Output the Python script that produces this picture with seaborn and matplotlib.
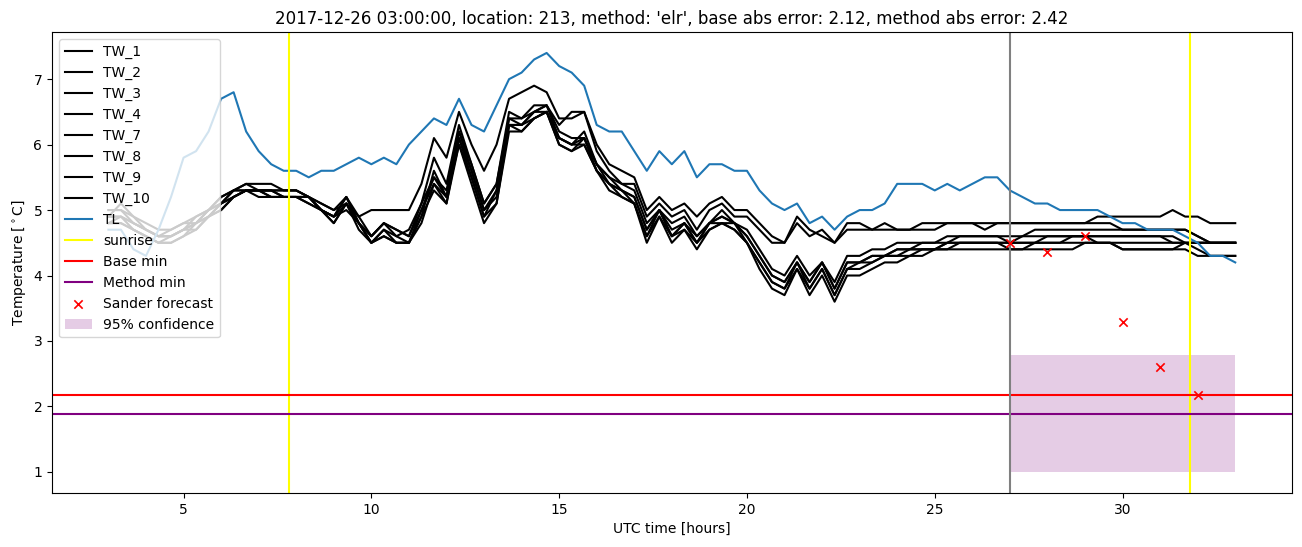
import numpy as np
import pandas as pd
import matplotlib
matplotlib.use("Agg")
import matplotlib.pyplot as plt
import seaborn as sns

# ---- data (20-minute steps from 03:00 to 33:00 UTC hours) ----
TL = [4.7, 4.7, 4.4, 4.3, 4.7, 5.2, 5.8, 5.9, 6.2, 6.7, 6.8, 6.2,
      5.9, 5.7, 5.6, 5.6, 5.5, 5.6, 5.6, 5.7, 5.8, 5.7, 5.8, 5.7,
      6.0, 6.2, 6.4, 6.3, 6.7, 6.3, 6.2, 6.6, 7.0, 7.1, 7.3, 7.4,
      7.2, 7.1, 6.9, 6.3, 6.2, 6.2, 5.9, 5.6, 5.9, 5.7, 5.9, 5.5,
      5.7, 5.7, 5.6, 5.6, 5.3, 5.1, 5.0, 5.1, 4.8, 4.9, 4.7, 4.9,
      5.0, 5.0, 5.1, 5.4, 5.4, 5.4, 5.3, 5.4, 5.3, 5.4, 5.5, 5.5,
      5.3, 5.2, 5.1, 5.1, 5.0, 5.0, 5.0, 5.0, 4.9, 4.8, 4.8, 4.7,
      4.7, 4.7, 4.6, 4.5, 4.3, 4.3, 4.2]

TW_1 = [5.0, 5.0, 4.9, 4.8, 4.7, 4.7, 4.8, 4.9, 5.0, 5.2, 5.3, 5.4,
        5.4, 5.4, 5.3, 5.3, 5.2, 5.1, 5.0, 5.2, 4.9, 5.0, 5.0, 5.0,
        5.0, 5.4, 6.1, 5.8, 6.5, 6.0, 5.6, 6.0, 6.7, 6.8, 6.9, 6.8,
        6.4, 6.4, 6.5, 6.0, 5.7, 5.6, 5.5, 5.0, 5.2, 5.0, 5.1, 4.9,
        5.1, 5.2, 5.0, 5.0, 4.8, 4.6, 4.5, 4.9, 4.7, 4.6, 4.5, 4.8,
        4.8, 4.7, 4.8, 4.7, 4.7, 4.8, 4.8, 4.8, 4.8, 4.8, 4.7, 4.8,
        4.8, 4.8, 4.8, 4.8, 4.8, 4.8, 4.8, 4.9, 4.9, 4.9, 4.9, 4.9,
        4.9, 5.0, 4.9, 4.9, 4.8, 4.8, 4.8]
TW_2 = [4.9, 4.9, 4.8, 4.7, 4.6, 4.6, 4.7, 4.8, 5.0, 5.1, 5.3, 5.3,
        5.3, 5.3, 5.3, 5.3, 5.2, 5.0, 4.9, 5.2, 4.8, 4.6, 4.8, 4.6,
        4.7, 5.1, 5.8, 5.4, 6.3, 5.7, 5.1, 5.4, 6.5, 6.4, 6.6, 6.6,
        6.3, 6.5, 6.5, 5.9, 5.6, 5.4, 5.4, 4.9, 5.1, 4.9, 5.0, 4.7,
        5.0, 5.1, 4.9, 4.9, 4.7, 4.5, 4.5, 4.8, 4.6, 4.7, 4.5, 4.7,
        4.7, 4.7, 4.7, 4.7, 4.7, 4.7, 4.7, 4.8, 4.8, 4.8, 4.8, 4.8,
        4.8, 4.8, 4.8, 4.8, 4.8, 4.8, 4.8, 4.8, 4.8, 4.7, 4.7, 4.7,
        4.7, 4.7, 4.7, 4.6, 4.5, 4.5, 4.5]
TW_3 = [4.8, 4.8, 4.7, 4.6, 4.5, 4.6, 4.7, 4.8, 4.9, 5.1, 5.2, 5.3,
        5.3, 5.3, 5.2, 5.2, 5.2, 5.0, 4.9, 5.1, 4.8, 4.5, 4.7, 4.6,
        4.5, 4.9, 5.6, 5.2, 6.2, 5.6, 5.0, 5.2, 6.3, 6.3, 6.4, 6.5,
        6.1, 6.0, 6.2, 5.7, 5.5, 5.3, 5.2, 4.7, 5.0, 4.7, 4.8, 4.6,
        4.8, 4.9, 4.8, 4.6, 4.3, 4.0, 3.9, 4.2, 3.9, 4.2, 3.8, 4.2,
        4.2, 4.3, 4.3, 4.4, 4.4, 4.5, 4.5, 4.5, 4.6, 4.6, 4.6, 4.6,
        4.5, 4.6, 4.7, 4.7, 4.7, 4.7, 4.7, 4.7, 4.7, 4.7, 4.7, 4.7,
        4.7, 4.7, 4.7, 4.6, 4.5, 4.5, 4.5]
TW_4 = [4.9, 5.1, 4.9, 4.7, 4.6, 4.7, 4.8, 4.8, 5.0, 5.2, 5.3, 5.3,
        5.3, 5.2, 5.2, 5.2, 5.1, 5.0, 4.9, 5.2, 4.8, 4.6, 4.8, 4.7,
        4.6, 5.0, 5.4, 5.2, 6.0, 5.5, 4.9, 5.1, 6.2, 6.2, 6.4, 6.5,
        6.0, 5.9, 6.0, 5.6, 5.3, 5.2, 5.1, 4.6, 4.9, 4.6, 4.8, 4.5,
        4.8, 4.8, 4.8, 4.5, 4.2, 3.9, 3.8, 4.2, 3.8, 4.1, 3.7, 4.1,
        4.1, 4.2, 4.3, 4.3, 4.4, 4.4, 4.4, 4.5, 4.5, 4.5, 4.5, 4.5,
        4.5, 4.5, 4.5, 4.6, 4.6, 4.6, 4.6, 4.5, 4.5, 4.5, 4.5, 4.5,
        4.5, 4.5, 4.5, 4.5, 4.5, 4.5, 4.5]
TW_7 = [4.8, 4.8, 4.7, 4.6, 4.5, 4.5, 4.6, 4.7, 4.9, 5.0, 5.2, 5.3,
        5.3, 5.3, 5.2, 5.2, 5.2, 5.0, 4.8, 5.1, 4.7, 4.5, 4.6, 4.5,
        4.5, 4.9, 5.3, 5.1, 6.0, 5.4, 4.8, 5.1, 6.3, 6.3, 6.5, 6.5,
        6.1, 6.0, 6.0, 5.6, 5.4, 5.2, 5.1, 4.5, 4.9, 4.5, 4.7, 4.4,
        4.7, 4.8, 4.7, 4.5, 4.1, 3.8, 3.7, 4.1, 3.7, 4.0, 3.6, 4.0,
        4.0, 4.1, 4.2, 4.2, 4.3, 4.3, 4.4, 4.4, 4.5, 4.5, 4.5, 4.5,
        4.4, 4.4, 4.5, 4.5, 4.5, 4.5, 4.5, 4.5, 4.5, 4.4, 4.4, 4.4,
        4.4, 4.4, 4.5, 4.4, 4.3, 4.3, 4.3]
TW_8 = [5.0, 5.0, 4.8, 4.7, 4.6, 4.6, 4.7, 4.9, 5.0, 5.1, 5.3, 5.4,
        5.3, 5.3, 5.3, 5.3, 5.2, 5.1, 5.0, 5.1, 4.9, 4.6, 4.8, 4.7,
        4.6, 5.1, 5.5, 5.3, 6.2, 5.7, 5.1, 5.4, 6.4, 6.4, 6.5, 6.6,
        6.2, 6.1, 6.1, 5.7, 5.5, 5.4, 5.3, 4.8, 5.0, 4.8, 4.9, 4.6,
        4.8, 5.0, 4.8, 4.7, 4.4, 4.1, 4.0, 4.3, 4.0, 4.2, 3.9, 4.3,
        4.3, 4.4, 4.4, 4.5, 4.5, 4.5, 4.5, 4.6, 4.6, 4.6, 4.6, 4.6,
        4.6, 4.6, 4.6, 4.6, 4.6, 4.6, 4.6, 4.6, 4.6, 4.6, 4.6, 4.6,
        4.6, 4.5, 4.5, 4.5, 4.5, 4.5, 4.5]
TW_9 = [4.8, 4.9, 4.7, 4.6, 4.5, 4.5, 4.6, 4.8, 4.9, 5.0, 5.2, 5.3,
        5.2, 5.2, 5.2, 5.2, 5.1, 5.0, 4.9, 5.0, 4.8, 4.5, 4.6, 4.5,
        4.5, 4.8, 5.4, 5.1, 6.1, 5.5, 4.9, 5.3, 6.3, 6.2, 6.4, 6.5,
        6.0, 5.9, 6.1, 5.6, 5.4, 5.3, 5.1, 4.6, 5.0, 4.6, 4.7, 4.5,
        4.7, 4.8, 4.7, 4.5, 4.2, 3.9, 3.8, 4.1, 3.8, 4.1, 3.7, 4.1,
        4.2, 4.3, 4.3, 4.4, 4.4, 4.4, 4.4, 4.5, 4.5, 4.5, 4.5, 4.5,
        4.5, 4.5, 4.5, 4.5, 4.5, 4.6, 4.6, 4.6, 4.6, 4.6, 4.6, 4.6,
        4.6, 4.6, 4.5, 4.5, 4.5, 4.5, 4.5]
TW_10 = [4.9, 4.9, 4.8, 4.7, 4.6, 4.6, 4.7, 4.7, 4.9, 5.1, 5.2, 5.3,
         5.3, 5.2, 5.2, 5.2, 5.2, 5.0, 4.8, 5.1, 4.8, 4.5, 4.7, 4.5,
         4.5, 5.0, 5.5, 5.2, 6.1, 5.6, 5.0, 5.3, 6.4, 6.3, 6.5, 6.6,
         6.1, 6.0, 6.1, 5.7, 5.4, 5.3, 5.2, 4.7, 5.0, 4.6, 4.8, 4.5,
         4.8, 4.9, 4.8, 4.6, 4.3, 4.0, 3.9, 4.2, 3.9, 4.2, 3.8, 4.2,
         4.2, 4.2, 4.3, 4.3, 4.3, 4.4, 4.4, 4.4, 4.4, 4.4, 4.4, 4.4,
         4.4, 4.4, 4.4, 4.4, 4.4, 4.4, 4.5, 4.5, 4.5, 4.4, 4.4, 4.4,
         4.4, 4.4, 4.4, 4.3, 4.3, 4.3, 4.3]

tw_names = ["TW_1", "TW_2", "TW_3", "TW_4", "TW_7", "TW_8", "TW_9", "TW_10"]
tw_series = [TW_1, TW_2, TW_3, TW_4, TW_7, TW_8, TW_9, TW_10]

start_hour = 3.0
step_hours = 1.0 / 3.0

sunrise_hours = [7.8, 31.8]
forecast_start = 27.0
base_min = 2.18
method_min = 1.89
forecast_hours = [27, 28, 29, 30, 31, 32]
sander_forecast = [4.50, 4.36, 4.60, 3.29, 2.60, 2.18]
conf_hours = [27, 33]
conf_low = [1.0, 1.0]
conf_high = [2.79, 2.79]

title = ("2017-12-26 03:00:00, location: 213, method: 'elr', "
         "base abs error: 2.12, method abs error: 2.42")

# ---- build table ----
n = len(TL)
hours = start_hour + np.arange(n) * step_hours
frames = []
for name, vals in zip(tw_names, tw_series):
    frames.append(pd.DataFrame({"hour": hours, "temp": vals, "sensor": name}))
frames.append(pd.DataFrame({"hour": hours, "temp": TL, "sensor": "TL"}))
df = pd.concat(frames, ignore_index=True)

palette = {name: "black" for name in tw_names}
palette["TL"] = "#1f77b4"

fig = plt.figure(figsize=(13.02, 5.47), dpi=100)
ax = fig.add_axes([0.040, 0.099, 0.952, 0.8425])

sns.lineplot(data=df, x="hour", y="temp", hue="sensor", palette=palette,
             hue_order=tw_names + ["TL"], linewidth=1.5, ax=ax, legend=False)

# legend handles follow the lines
for i, line in enumerate(ax.get_lines()):
    line.set_label((tw_names + ["TL"])[i])

ax.axvline(sunrise_hours[0], color="yellow", label="sunrise")
ax.axvline(sunrise_hours[1], color="yellow")
ax.axhline(base_min, color="red", label="Base min")
ax.axhline(method_min, color="purple", label="Method min")
ax.axvline(forecast_start, color="gray")
sns.scatterplot(x=forecast_hours, y=sander_forecast, marker="x", color="red",
                s=36, linewidth=1.2, ax=ax, label="Sander forecast", zorder=3)
ax.fill_between(conf_hours, conf_low, conf_high, color="purple", alpha=0.2,
                linewidth=0, label="95% confidence")

ax.set_xlabel("UTC time [hours]")
ax.set_ylabel("Temperature [$^\\circ$C]")
ax.set_title(title, fontsize=12)
ax.legend(loc="upper left")

fig.savefig("out.png", dpi=100)
